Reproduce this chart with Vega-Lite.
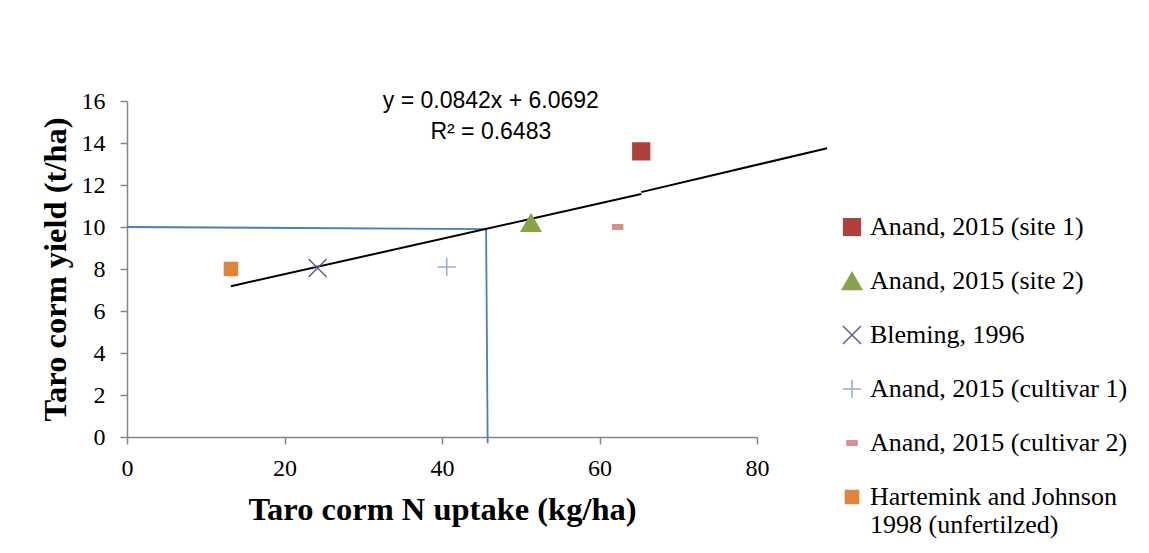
{
  "$schema": "https://vega.github.io/schema/vega-lite/v6.json",
  "width": 630,
  "height": 336,
  "autosize": {"type": "none"},
  "padding": {"left": 127, "top": 101, "right": 392, "bottom": 116},
  "background": "white",
  "config": {
    "view": {"stroke": null},
    "font": "Liberation Serif",
    "axis": {
      "domainColor": "#868686",
      "domainWidth": 1.5,
      "tickColor": "#868686",
      "tickWidth": 1.5,
      "tickSize": 7,
      "grid": false,
      "labelFont": "Liberation Serif",
      "labelFontSize": 24,
      "labelColor": "black",
      "titleFont": "Liberation Serif",
      "titleFontSize": 32.5,
      "titleFontWeight": "bold",
      "titleColor": "black"
    },
    "legend": {
      "symbolSize": 220,
      "labelFont": "Liberation Serif",
      "labelFontSize": 26,
      "labelColor": "black",
      "labelLimit": 400,
      "symbolStrokeWidth": 1.5
    }
  },
  "datasets": {
    "points": [
      {"series": "Anand, 2015 (site 1)", "uptake": 65.3, "yield": 13.6},
      {"series": "Anand, 2015 (site 2)", "uptake": 51.3, "yield": 10.2},
      {"series": "Bleming, 1996", "uptake": 24.2, "yield": 8.05},
      {"series": "Anand, 2015 (cultivar 1)", "uptake": 40.6, "yield": 8.1},
      {"series": "Anand, 2015 (cultivar 2)", "uptake": 62.3, "yield": 10.0},
      {"series": "Hartemink and Johnson 1998 (unfertilzed)", "uptake": 13.2, "yield": 8.0}
    ],
    "trend": [
      {"seg": "a", "uptake": 13.2, "yield": 7.18},
      {"seg": "a", "uptake": 65.3, "yield": 11.57},
      {"seg": "b", "uptake": 65.3, "yield": 11.66},
      {"seg": "b", "uptake": 88.9, "yield": 13.75}
    ],
    "guide": [
      {"order": 1, "uptake": 0, "yield": 10.0},
      {"order": 2, "uptake": 45.6, "yield": 9.9},
      {"order": 3, "uptake": 45.8, "yield": -0.3}
    ],
    "labels": [
      {"uptake": 46.2, "yield": 15.68, "label": "y = 0.0842x + 6.0692"},
      {"uptake": 46.2, "yield": 14.17, "label": "R² = 0.6483"}
    ]
  },
  "encoding": {
    "x": {"field": "uptake", "type": "quantitative", "scale": {"domain": [0, 80], "nice": false},
          "axis": {"values": [0, 20, 40, 60, 80], "labelPadding": 12, "labelFlush": false,
                   "titleY": 82, "titleBaseline": "alphabetic"},
          "title": "Taro corm N uptake (kg/ha)"},
    "y": {"field": "yield", "type": "quantitative", "scale": {"domain": [0, 16], "nice": false},
          "axis": {"values": [0, 2, 4, 6, 8, 10, 12, 14, 16], "labelPadding": 15, "labelFlush": false,
                   "titleX": -62, "titleBaseline": "alphabetic"},
          "title": "Taro corm yield (t/ha)"}
  },
  "layer": [
    {
      "data": {"name": "guide"},
      "mark": {"type": "line", "color": "#4A7EBB", "strokeWidth": 1.8},
      "encoding": {"order": {"field": "order"}}
    },
    {
      "data": {"name": "trend"},
      "mark": {"type": "line", "color": "black", "strokeWidth": 2},
      "encoding": {"detail": {"field": "seg"}}
    },
    {
      "data": {"name": "points"},
      "mark": {"type": "point", "filled": true, "opacity": 1, "strokeWidth": 1.5},
      "encoding": {
        "color": {
          "field": "series", "type": "nominal",
          "scale": {
            "domain": ["Anand, 2015 (site 1)", "Anand, 2015 (site 2)", "Bleming, 1996", "Anand, 2015 (cultivar 1)", "Anand, 2015 (cultivar 2)", "Hartemink and Johnson 1998 (unfertilzed)"],
            "range": ["#B0403E", "#88A24A", "#6E5593", "#93ABD6", "#D6908E", "#E0843A"]
          },
          "legend": {
            "title": null,
            "orient": "none",
            "legendX": 712,
            "legendY": 113,
            "rowPadding": 28,
            "labelOffset": 5,
            "labelExpr": "datum.label == 'Hartemink and Johnson 1998 (unfertilzed)' ? ['Hartemink and Johnson', '1998 (unfertilzed)'] : datum.label"
          }
        },
        "stroke": {
          "field": "series", "type": "nominal",
          "scale": {
            "domain": ["Anand, 2015 (site 1)", "Anand, 2015 (site 2)", "Bleming, 1996", "Anand, 2015 (cultivar 1)", "Anand, 2015 (cultivar 2)", "Hartemink and Johnson 1998 (unfertilzed)"],
            "range": ["#B0403E", "#88A24A", "#6E5593", "#93ABD6", "#D6908E", "#E0843A"]
          }
        },
        "shape": {
          "field": "series", "type": "nominal",
          "scale": {
            "domain": ["Anand, 2015 (site 1)", "Anand, 2015 (site 2)", "Bleming, 1996", "Anand, 2015 (cultivar 1)", "Anand, 2015 (cultivar 2)", "Hartemink and Johnson 1998 (unfertilzed)"],
            "range": ["square", "triangle-up", "M-1,-1L1,1M1,-1L-1,1", "M-1,0L1,0M0,-1L0,1", "M-0.6,-0.28L0.6,-0.28L0.6,0.28L-0.6,0.28Z", "square"]
          }
        },
        "size": {
          "field": "series", "type": "nominal",
          "scale": {
            "type": "ordinal",
            "domain": ["Anand, 2015 (site 1)", "Anand, 2015 (site 2)", "Bleming, 1996", "Anand, 2015 (cultivar 1)", "Anand, 2015 (cultivar 2)", "Hartemink and Johnson 1998 (unfertilzed)"],
            "range": [280, 380, 324, 324, 280, 170]
          },
          "legend": null
        }
      }
    },
    {
      "data": {"name": "labels"},
      "mark": {"type": "text", "font": "Liberation Sans", "fontSize": 23, "color": "black", "baseline": "alphabetic"},
      "encoding": {"text": {"field": "label"}}
    }
  ]
}
